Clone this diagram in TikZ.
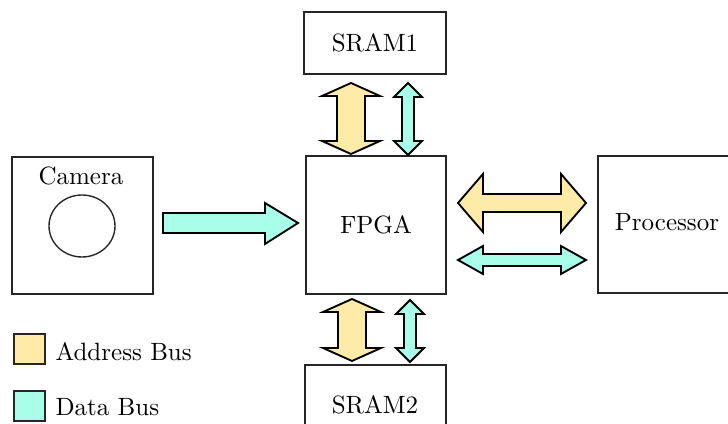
\documentclass[tikz,border=0pt]{standalone}
\usetikzlibrary{calc}
\definecolor{addrfill}{HTML}{FFEBA8}
\definecolor{datafill}{HTML}{A8FEE9}
\tikzset{
  blk/.style={draw=black!85, line width=0.55pt, inner sep=0pt},
  busarrow/.style={draw=black, line width=0.75pt, line join=miter},
  addr/.style={busarrow, fill=addrfill},
  data/.style={busarrow, fill=datafill},
  lbl/.style={font=\normalsize, inner sep=0pt}
}
% horizontal double arrow: style, x1, x2, yc, body half, head half, head length
\newcommand{\hdblarrow}[7]{%
  \draw[#1] (#2,#4) -- ({#2+#7},{#4-#6}) -- ({#2+#7},{#4-#5}) -- ({#3-#7},{#4-#5})
    -- ({#3-#7},{#4-#6}) -- (#3,#4) -- ({#3-#7},{#4+#6}) -- ({#3-#7},{#4+#5})
    -- ({#2+#7},{#4+#5}) -- ({#2+#7},{#4+#6}) -- cycle;}
% vertical double arrow: style, y1, y2, xc, body half, head half, head length
\newcommand{\vdblarrow}[7]{%
  \draw[#1] (#4,#2) -- ({#4-#6},{#2+#7}) -- ({#4-#5},{#2+#7}) -- ({#4-#5},{#3-#7})
    -- ({#4-#6},{#3-#7}) -- (#4,#3) -- ({#4+#6},{#3-#7}) -- ({#4+#5},{#3-#7})
    -- ({#4+#5},{#2+#7}) -- ({#4+#6},{#2+#7}) -- cycle;}
\begin{document}
\begin{tikzpicture}[x=0.4pt, y=-0.4pt]
\useasboundingbox (0,0) rectangle (728,424);
\clip (0,0) rectangle (728,424);
% boxes
\draw[blk] (304,12) rectangle (446,74);
\node[lbl] (sram1) at (375,43) {SRAM1};
\draw[blk] (306,156) rectangle (446,294);
\node[lbl] (fpga) at (376,225) {FPGA};
\draw[blk] (305,365) rectangle (446,450);
\node[lbl] (sram2) at (375,405) {SRAM2};
\draw[blk] (12,157) rectangle (153,294);
\node[lbl] (camera) at (81,176) {Camera};
\draw[blk] (82,226) ellipse [x radius=33, y radius=31];
\draw[blk] (598,156) rectangle (740,293);
\node[lbl] (proc) at (667,222) {Processor};
% camera -> FPGA
\draw[data] (163,213) -- (265,213) -- (265,203) -- (298,223) -- (265,244)
  -- (265,233) -- (163,233) -- cycle;
% FPGA <-> Processor
\hdblarrow{addr}{458}{586}{203}{9}{29}{25}
\hdblarrow{data}{458}{586}{260}{6}{14}{25}
% SRAM1 <-> FPGA
\vdblarrow{addr}{83}{154}{351}{14}{29}{13}
\vdblarrow{data}{83}{155}{408}{6}{14}{14}
% FPGA <-> SRAM2
\vdblarrow{addr}{299}{361}{352}{14}{29}{13}
\vdblarrow{data}{300}{362}{410}{6}{14}{14}
% legend
\draw[blk, fill=addrfill] (14,334) rectangle (45,364);
\node[lbl, anchor=west] (laddr) at (55,352) {Address Bus};
\draw[blk, fill=datafill] (14,391) rectangle (45,421);
\node[lbl, anchor=west] (ldata) at (55,407) {Data Bus};
\end{tikzpicture}
\end{document}
